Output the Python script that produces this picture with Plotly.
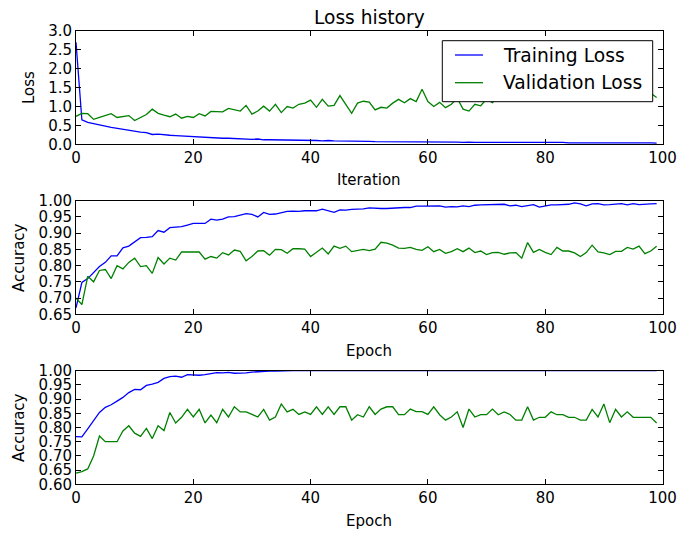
import plotly.graph_objects as go

iterations = list(range(100))
epochs = list(range(100))

train_loss = [2.70, 0.65, 0.58, 0.54, 0.50, 0.48, 0.45, 0.42, 0.40, 0.37,
              0.34, 0.32, 0.31, 0.26, 0.27, 0.25, 0.24, 0.23, 0.22, 0.21,
              0.20, 0.19, 0.19, 0.17, 0.17, 0.16, 0.16, 0.15, 0.15, 0.14,
              0.13, 0.14, 0.12, 0.12, 0.12, 0.11, 0.11, 0.11, 0.11, 0.10,
              0.10, 0.10, 0.09, 0.10, 0.09, 0.09, 0.09, 0.08, 0.08, 0.08,
              0.08, 0.07, 0.07, 0.08, 0.07, 0.07, 0.07, 0.07, 0.06, 0.06,
              0.06, 0.06, 0.06, 0.06, 0.06, 0.06, 0.05, 0.06, 0.05, 0.05,
              0.05, 0.05, 0.05, 0.05, 0.05, 0.05, 0.05, 0.05, 0.05, 0.06,
              0.05, 0.05, 0.05, 0.05, 0.04, 0.04, 0.05, 0.04, 0.04, 0.05,
              0.05, 0.04, 0.04, 0.04, 0.05, 0.04, 0.04, 0.05, 0.04, 0.03]

val_loss = [0.74, 0.82, 0.81, 0.66, 0.71, 0.75, 0.81, 0.71, 0.73, 0.76,
            0.63, 0.71, 0.79, 0.93, 0.82, 0.77, 0.73, 0.80, 0.69, 0.74,
            0.71, 0.81, 0.75, 0.87, 0.86, 0.86, 0.95, 0.92, 0.88, 1.03,
            0.80, 0.88, 1.01, 0.88, 1.06, 0.84, 1.00, 0.96, 1.06, 1.09,
            1.17, 0.98, 1.19, 1.01, 1.03, 1.29, 1.06, 0.82, 1.09, 1.14,
            1.12, 0.91, 0.98, 0.96, 1.09, 1.19, 1.10, 1.21, 1.13, 1.46,
            1.13, 1.00, 1.11, 0.97, 1.06, 1.22, 0.93, 0.88, 1.06, 1.02,
            1.20, 1.10, 1.25, 1.22, 1.30, 1.24, 1.33, 1.27, 1.22, 1.35,
            1.28, 1.31, 1.24, 1.38, 1.29, 1.33, 1.26, 1.36, 1.30, 1.42,
            1.27, 1.34, 1.30, 1.39, 1.28, 1.36, 1.31, 1.29, 1.35, 1.24]

train_acc_1 = [0.670, 0.748, 0.760, 0.780, 0.797, 0.810, 0.830, 0.830, 0.855, 0.860,
               0.874, 0.886, 0.887, 0.889, 0.908, 0.903, 0.917, 0.918, 0.920, 0.925,
               0.930, 0.930, 0.930, 0.943, 0.940, 0.943, 0.950, 0.951, 0.955, 0.960,
               0.958, 0.950, 0.964, 0.958, 0.959, 0.964, 0.967, 0.968, 0.967, 0.969,
               0.968, 0.969, 0.974, 0.969, 0.964, 0.972, 0.971, 0.973, 0.973, 0.975,
               0.978, 0.976, 0.976, 0.976, 0.977, 0.980, 0.979, 0.979, 0.983, 0.983,
               0.983, 0.983, 0.984, 0.980, 0.982, 0.981, 0.984, 0.982, 0.986, 0.987,
               0.987, 0.987, 0.987, 0.989, 0.984, 0.986, 0.982, 0.984, 0.988, 0.980,
               0.984, 0.987, 0.987, 0.987, 0.989, 0.993, 0.990, 0.984, 0.990, 0.991,
               0.987, 0.988, 0.989, 0.991, 0.987, 0.991, 0.988, 0.988, 0.990, 0.991]

val_acc_1 = [0.700, 0.680, 0.767, 0.750, 0.785, 0.788, 0.760, 0.800, 0.790, 0.810,
             0.823, 0.797, 0.800, 0.776, 0.825, 0.805, 0.823, 0.817, 0.842, 0.842,
             0.842, 0.842, 0.820, 0.828, 0.823, 0.840, 0.833, 0.848, 0.844, 0.815,
             0.828, 0.845, 0.846, 0.832, 0.850, 0.849, 0.838, 0.852, 0.852, 0.851,
             0.828, 0.840, 0.854, 0.836, 0.860, 0.853, 0.860, 0.843, 0.847, 0.850,
             0.846, 0.851, 0.872, 0.869, 0.863, 0.854, 0.853, 0.856, 0.850, 0.847,
             0.858, 0.843, 0.850, 0.838, 0.843, 0.852, 0.843, 0.854, 0.840, 0.845,
             0.834, 0.840, 0.841, 0.835, 0.839, 0.840, 0.823, 0.871, 0.841, 0.850,
             0.841, 0.834, 0.856, 0.845, 0.845, 0.839, 0.828, 0.840, 0.863, 0.842,
             0.839, 0.834, 0.844, 0.844, 0.856, 0.851, 0.860, 0.837, 0.845, 0.860]

train_acc_2 = [0.768, 0.767, 0.795, 0.825, 0.853, 0.871, 0.880, 0.893, 0.906, 0.923,
               0.934, 0.933, 0.948, 0.953, 0.959, 0.973, 0.979, 0.981, 0.977, 0.986,
               0.984, 0.984, 0.986, 0.989, 0.993, 0.992, 0.994, 0.991, 0.991, 0.992,
               0.995, 0.997, 0.999, 0.999, 0.999, 1.000, 1.000, 1.000, 1.000, 1.000,
               1.000, 1.000, 1.000, 1.000, 1.000, 1.000, 1.000, 1.000, 1.000, 1.000,
               1.000, 1.000, 1.000, 1.000, 1.000, 1.000, 1.000, 1.000, 1.000, 1.000,
               1.000, 1.000, 1.000, 1.000, 1.000, 1.000, 1.000, 1.000, 1.000, 1.000,
               1.000, 1.000, 1.000, 1.000, 1.000, 1.000, 1.000, 1.000, 1.000, 1.000,
               1.000, 1.000, 1.000, 1.000, 1.000, 1.000, 1.000, 1.000, 1.000, 1.000,
               1.000, 1.000, 1.000, 1.000, 1.000, 1.000, 1.000, 1.000, 1.000, 1.000]

val_acc_2 = [0.639, 0.645, 0.654, 0.700, 0.770, 0.750, 0.750, 0.750, 0.788, 0.806,
             0.780, 0.769, 0.797, 0.761, 0.806, 0.789, 0.853, 0.816, 0.836, 0.864,
             0.837, 0.864, 0.816, 0.844, 0.817, 0.864, 0.837, 0.873, 0.855, 0.855,
             0.846, 0.837, 0.864, 0.826, 0.837, 0.883, 0.855, 0.864, 0.846, 0.855,
             0.846, 0.873, 0.846, 0.873, 0.846, 0.873, 0.873, 0.826, 0.845, 0.837,
             0.873, 0.846, 0.865, 0.873, 0.873, 0.845, 0.845, 0.865, 0.856, 0.856,
             0.846, 0.873, 0.845, 0.826, 0.837, 0.855, 0.800, 0.865, 0.837, 0.845,
             0.845, 0.865, 0.845, 0.855, 0.846, 0.826, 0.826, 0.873, 0.826, 0.836,
             0.836, 0.855, 0.845, 0.845, 0.836, 0.836, 0.826, 0.826, 0.864, 0.837,
             0.883, 0.817, 0.864, 0.837, 0.855, 0.836, 0.836, 0.836, 0.836, 0.816]

x_ticks = [0, 20, 40, 60, 80, 100]
loss_ticks = [0.0, 0.5, 1.0, 1.5, 2.0, 2.5, 3.0]
acc1_ticks = [0.65, 0.70, 0.75, 0.80, 0.85, 0.90, 0.95, 1.00]
acc2_ticks = [0.60, 0.65, 0.70, 0.75, 0.80, 0.85, 0.90, 0.95, 1.00]
legend_names = ["Training Loss", "Validation Loss"]

BLUE = "#0000ff"
GREEN = "#008000"
FONT = "DejaVu Sans"

W, H = 677, 533

def px(p):
    return p / W

def py(p):
    return 1 - p / H

fig = go.Figure()
lw = 1.3
fig.add_trace(go.Scatter(x=iterations, y=train_loss, mode="lines", name=legend_names[0],
                         line=dict(color=BLUE, width=lw), xaxis="x", yaxis="y"))
fig.add_trace(go.Scatter(x=iterations, y=val_loss, mode="lines", name=legend_names[1],
                         line=dict(color=GREEN, width=lw), xaxis="x", yaxis="y"))
fig.add_trace(go.Scatter(x=epochs, y=train_acc_1, mode="lines", name="Training accuracy",
                         line=dict(color=BLUE, width=lw), xaxis="x2", yaxis="y2"))
fig.add_trace(go.Scatter(x=epochs, y=val_acc_1, mode="lines", name="Validation accuracy",
                         line=dict(color=GREEN, width=lw), xaxis="x2", yaxis="y2"))
fig.add_trace(go.Scatter(x=epochs, y=train_acc_2, mode="lines", name="Training accuracy",
                         line=dict(color=BLUE, width=lw), xaxis="x3", yaxis="y3"))
fig.add_trace(go.Scatter(x=epochs, y=val_acc_2, mode="lines", name="Validation accuracy",
                         line=dict(color=GREEN, width=lw), xaxis="x3", yaxis="y3"))

x0, x1 = px(76), px(662.5)

def ydom(top, bottom):
    return [py(bottom), py(top)]

axis_common = dict(showgrid=False, zeroline=False, showline=True, linecolor="black",
                   linewidth=1, mirror="ticks", ticks="inside", ticklen=5,
                   tickcolor="black", tickwidth=1, automargin=False,
                   ticklabeloverflow="allow",
                   tickfont=dict(family=FONT, size=15, color="black"))

fig.update_layout(
    width=W, height=H, margin=dict(l=0, r=0, t=0, b=0, autoexpand=False),
    paper_bgcolor="white", plot_bgcolor="white",
    font=dict(family=FONT, color="black"),
    showlegend=False,
    xaxis=dict(domain=[x0, x1], anchor="y", range=[0, 100], tickvals=x_ticks, **axis_common),
    yaxis=dict(domain=ydom(31, 144.3), anchor="x", range=[0, 3], tickvals=loss_ticks,
               tickformat=".1f", **axis_common),
    xaxis2=dict(domain=[x0, x1], anchor="y2", range=[0, 100], tickvals=x_ticks, **axis_common),
    yaxis2=dict(domain=ydom(200.7, 314.3), anchor="x2", range=[0.65, 1.0], tickvals=acc1_ticks,
                tickformat=".2f", **axis_common),
    xaxis3=dict(domain=[x0, x1], anchor="y3", range=[0, 100], tickvals=x_ticks, **axis_common),
    yaxis3=dict(domain=ydom(370.7, 484.3), anchor="x3", range=[0.6, 1.0], tickvals=acc2_ticks,
                tickformat=".2f", **axis_common),
)

# legend box for the loss panel
fig.add_shape(type="rect", xref="paper", yref="paper", layer="above",
              x0=px(442.3), x1=px(652.7), y0=py(101.7), y1=py(40.7),
              line=dict(color="black", width=1), fillcolor="white")
for name, color, yc in [(legend_names[0], BLUE, 55), (legend_names[1], GREEN, 82.7)]:
    fig.add_shape(type="line", xref="paper", yref="paper", layer="above",
                  x0=px(455), x1=px(483), y0=py(yc), y1=py(yc),
                  line=dict(color=color, width=lw))
    fig.add_annotation(text=name, x=px(501), y=py(yc), xref="paper", yref="paper",
                       showarrow=False, xanchor="left", yanchor="middle",
                       font=dict(family=FONT, size=18.7, color="black"))

def ann(text, x, y, size=15, angle=0):
    fig.add_annotation(text=text, x=px(x), y=py(y), xref="paper", yref="paper",
                       showarrow=False, textangle=angle, xanchor="center", yanchor="middle",
                       font=dict(family=FONT, size=size, color="black"))

ann("Loss history", 369, 18, size=18.6)
ann("Iteration", 369, 180)
ann("Loss", 29, 88, angle=-90)
ann("Epoch", 369, 351)
ann("Accuracy", 19, 258, angle=-90)
ann("Epoch", 369, 521)
ann("Accuracy", 19, 428, angle=-90)

fig.write_html("out.html", config={"displayModeBar": False},
               post_script="document.body.style.margin='0';document.body.style.overflow='hidden';")
